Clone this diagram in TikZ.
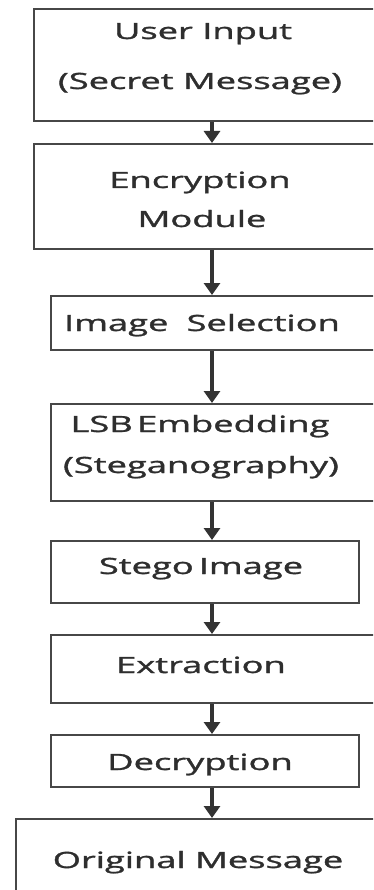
\documentclass[tikz,border=0pt]{standalone}
\usepackage{fontspec}
\setmainfont[FakeBold=1]{Open Sans}
\newfontfamily\boxfont[FakeBold=1.1]{Open Sans}
\usetikzlibrary{arrows.meta}
% widened lettering used in every box
\newcommand{\wide}[1]{\scalebox{1.62}[1]{#1}}
\begin{document}
\begin{tikzpicture}[x=1pt,y=-1pt,
  box/.style={draw=black!72, line width=2pt, fill=white, inner sep=0pt, anchor=north west},
  lbl/.style={anchor=base, inner sep=0pt, text=black!82, font=\boxfont\fontsize{22.4}{26}\selectfont},
  flow/.style={draw=black!80, line width=3.5pt, -{Triangle[width=16pt,length=12pt]}}]
\useasboundingbox (0,0) rectangle (373,890);
\clip (0,0) rectangle (373,890);
\fill[white] (0,0) rectangle (373,890);

% process boxes
\node[box, minimum width=347pt, minimum height=112pt] (b1) at (33,8) {};
\node[box, minimum width=347pt, minimum height=105pt] (b2) at (33,143) {};
\node[box, minimum width=330pt, minimum height=54pt]  (b3) at (50,295) {};
\node[box, minimum width=330pt, minimum height=97pt]  (b4) at (50,403) {};
\node[box, minimum width=308pt, minimum height=62pt]  (b5) at (50,540) {};
\node[box, minimum width=330pt, minimum height=68pt]  (b6) at (50,634) {};
\node[box, minimum width=308pt, minimum height=52pt]  (b7) at (50,734) {};
\node[box, minimum width=365pt, minimum height=82pt]  (b8) at (15,818) {};

% box texts
\node[lbl] (t1a) at (203,39)  {\wide{User Input}};
\node[lbl] (t1b) at (200,89)  {\wide{(Secret Message)}};
\node[lbl] (t2a) at (200,188) {\wide{Encryption}};
\node[lbl] (t2b) at (202,227) {\wide{Module}};
\node[lbl] (t3)  at (202,331) {\wide{Image\hspace{0.5em}Selection}};
\node[lbl] (t4a) at (200,432) {\wide{LSB\hspace{0.12em}Embedding}};
\node[lbl] (t4b) at (201,473) {\wide{(Steganography)}};
\node[lbl] (t5)  at (201,574) {\wide{Stego\hspace{0.14em}Image}};
\node[lbl] (t6)  at (201,673) {\wide{Extraction}};
\node[lbl] (t7)  at (200,770) {\wide{Decryption}};
\node[lbl] (t8)  at (198,868) {\wide{Original Message}};

% connectors
\coordinate (ax) at (212,0);
\draw[flow] (b1.south -| ax) -- (b2.north -| ax);
\draw[flow] (b2.south -| ax) -- (b3.north -| ax);
\draw[flow] (b3.south -| ax) -- (b4.north -| ax);
\draw[flow] (b4.south -| ax) -- (b5.north -| ax);
\draw[flow] (b5.south -| ax) -- (b6.north -| ax);
\draw[flow] (b6.south -| ax) -- (b7.north -| ax);
\draw[flow] (b7.south -| ax) -- (b8.north -| ax);
\end{tikzpicture}
\end{document}
